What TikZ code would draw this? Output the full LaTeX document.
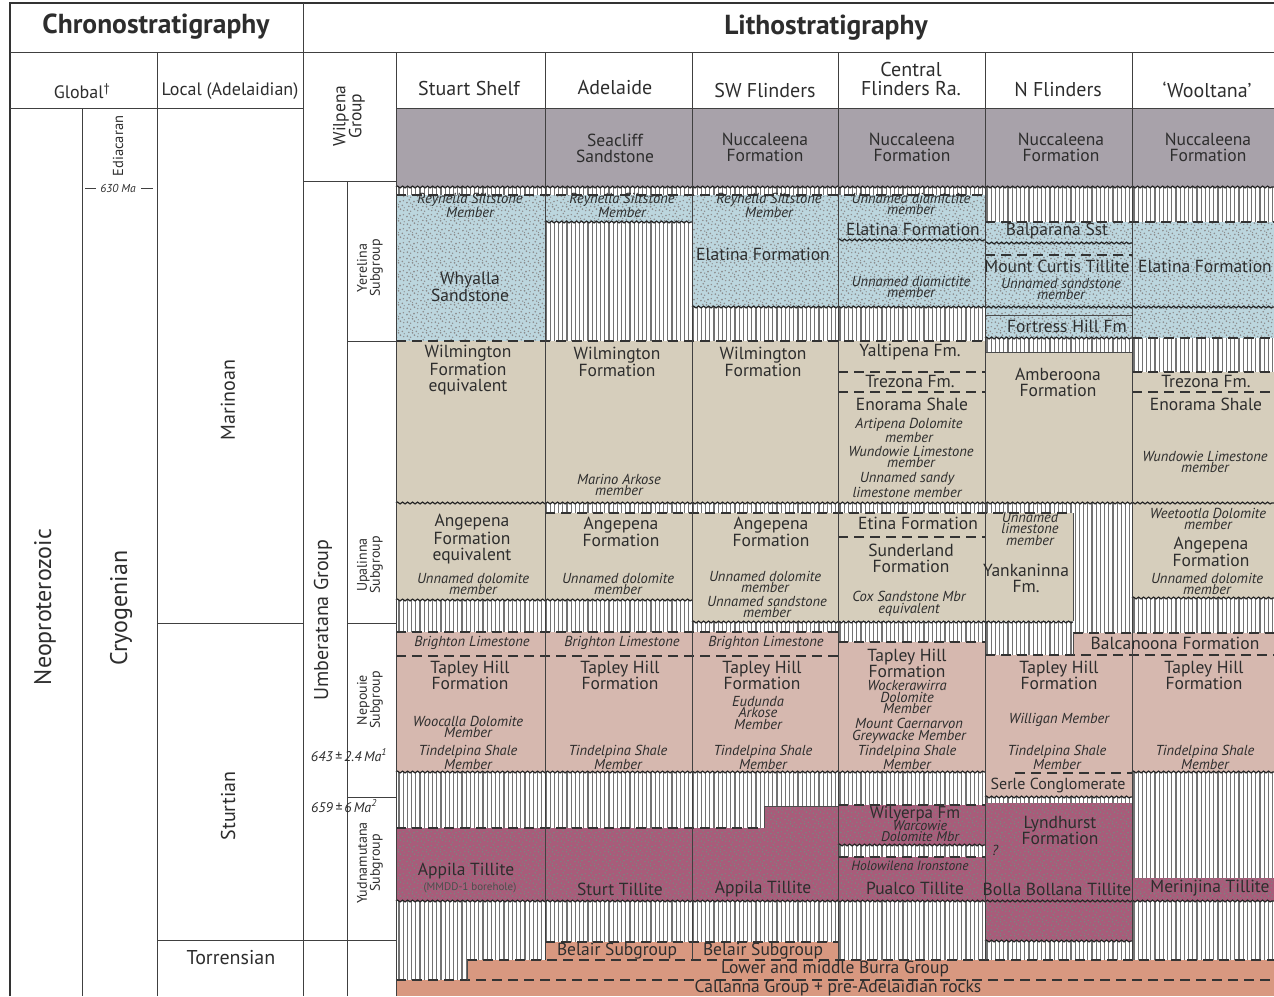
\documentclass[tikz,border=0pt]{standalone}
\usepackage{fontspec}
\setmainfont{PT Sans}
\usetikzlibrary{patterns,patterns.meta,decorations.pathmorphing}

\definecolor{ink}{RGB}{45,45,45}
\definecolor{greyfill}{RGB}{168,162,170}
\definecolor{bluefill}{RGB}{188,214,222}
\definecolor{tanfill}{RGB}{214,206,188}
\definecolor{pinkfill}{RGB}{214,184,175}
\definecolor{magfill}{RGB}{168,92,122}
\definecolor{salmon}{RGB}{216,152,128}

\newcommand\headfont{\fontsize{27.5}{28}\selectfont\bfseries}
\newcommand\colfont{\fontsize{20}{19}\selectfont}
\newcommand\bigfont{\fontsize{24}{24}\selectfont}
\newcommand\midfont{\fontsize{20}{20}\selectfont}
\newcommand\fmfont{\fontsize{17.5}{16}\selectfont}
\newcommand\mbrfont{\fontsize{14.5}{11.5}\selectfont\itshape}
\newcommand\sgfont{\fontsize{14}{13}\selectfont}
\newcommand\agefont{\fontsize{14}{14}\selectfont\itshape}

% random-looking grain for tillites and sandstones
\pgfdeclarepatternformonly{stipple}{\pgfpointorigin}{\pgfpoint{14pt}{14pt}}{\pgfpoint{14pt}{14pt}}{%
  \pgfpathcircle{\pgfpoint{1.5pt}{2pt}}{1.0pt}
  \pgfpathcircle{\pgfpoint{5pt}{0.8pt}}{0.8pt}
  \pgfpathcircle{\pgfpoint{9pt}{3pt}}{1.0pt}
  \pgfpathcircle{\pgfpoint{12.5pt}{1.5pt}}{0.8pt}
  \pgfpathcircle{\pgfpoint{3pt}{6pt}}{0.9pt}
  \pgfpathcircle{\pgfpoint{7pt}{5.5pt}}{1.0pt}
  \pgfpathcircle{\pgfpoint{11pt}{7pt}}{0.9pt}
  \pgfpathcircle{\pgfpoint{13pt}{4.5pt}}{0.7pt}
  \pgfpathcircle{\pgfpoint{1pt}{10pt}}{1.0pt}
  \pgfpathcircle{\pgfpoint{5pt}{9.5pt}}{0.8pt}
  \pgfpathcircle{\pgfpoint{8.5pt}{11pt}}{1.0pt}
  \pgfpathcircle{\pgfpoint{12pt}{12pt}}{0.8pt}
  \pgfpathcircle{\pgfpoint{3.5pt}{13pt}}{0.9pt}
  \pgfpathcircle{\pgfpoint{7pt}{8pt}}{0.7pt}
  \pgfusepath{fill}}

\tikzset{
  grid/.style={draw=black!75, line width=0.8pt},
  frame/.style={draw=black!80, line width=1.8pt},
  hatch/.style={pattern={Lines[angle=90,distance=4.2pt,line width=1.2pt]}, pattern color=black!55},
  blueunit/.style={fill=bluefill, postaction={pattern=stipple, pattern color=black!45}},
  magunit/.style={fill=magfill, postaction={pattern=stipple, pattern color=black!50}},
  wavy/.style={draw=black!85, line width=1.2pt, decorate,
    decoration={snake, amplitude=0.9pt, segment length=5pt}},
  brk/.style={draw=black!80, line width=1.2pt, dash pattern=on 10pt off 6pt},
  edge/.style={draw=black!70, line width=0.7pt},
  head/.style={font=\headfont, text=ink, inner sep=0pt},
  colhd/.style={font=\colfont, text=ink, align=center, inner sep=0pt},
  fm/.style={font=\fmfont, text=ink, align=center, inner sep=0pt},
  mbr/.style={font=\mbrfont, text=ink, align=center, inner sep=0pt},
  sg/.style={font=\sgfont, text=ink, align=center, inner sep=0pt, rotate=90},
  age/.style={font=\agefont, text=ink, inner sep=0pt}
}

\begin{document}
\begin{tikzpicture}[x=1pt, y=-1pt]
\useasboundingbox (0,0) rectangle (1274,996);

% background of hiatus hatching
\fill[white] (396,187) rectangle (1274,980);
\fill[hatch] (396,187) rectangle (1274,980);

% Wilpena Group
\fill[greyfill] (396,108) rectangle (1274,187);

% Yerelina sandstones / tillites
\foreach \a/\b/\c/\d in {396/195/545/341, 545/195/692/222, 692/195/838/307,
    838/195/985/307, 985/222/1132/338, 1132/222/1274/338}
  \path[blueunit] (\a,\b) rectangle (\c,\d);

% Upalinna
\foreach \a/\b/\c/\d in {396/341/545/503, 396/503/545/600, 545/341/692/503,
    545/513/692/600, 692/341/838/503, 692/513/838/622, 838/341/985/503,
    838/513/985/621, 985/352/1132/503, 985/513/1073/621, 1132/372/1274/503,
    1132/503/1274/598}
  \fill[tanfill] (\a,\b) rectangle (\c,\d);

% Nepouie
\foreach \a/\b/\c/\d in {396/632/838/772, 838/642/985/772, 985/655/1132/797,
    1073/633/1274/655, 1132/655/1274/772}
  \fill[pinkfill] (\a,\b) rectangle (\c,\d);

% Yudnamutana
\foreach \a/\b/\c/\d in {396/828/764/901, 764/806/838/901, 838/805/985/845,
    838/857/985/901, 985/803/1132/941, 1132/878/1274/901}
  \path[magunit] (\a,\b) rectangle (\c,\d);

% Burra, Belair, Callanna
\foreach \a/\b/\c/\d in {545/942/838/960, 467/960/1274/980, 396/980/1274/996}
  \fill[salmon] (\a,\b) rectangle (\c,\d);

% unconformities
\foreach \y/\a/\b in {187/396/1274, 222/545/692, 240/838/985, 243/985/1132,
    307/692/1274, 338/985/1132, 503/396/1274, 600/396/692, 622/692/1073,
    598/1132/1274, 772/396/985, 772/1132/1274, 797/985/1132, 845/838/985,
    901/396/1274, 941/985/1132}
  \draw[wavy] (\a,\y) -- (\b,\y);

% gradational / uncertain contacts
\foreach \y/\a/\b in {195/396/985, 341/396/985, 222/985/1274, 255/985/1132,
    338/1132/1274, 372/838/985, 392/838/985, 372/1132/1274, 392/1132/1274,
    513/545/1073, 537/838/985, 632/396/838, 656/396/838, 642/838/985,
    633/1073/1274, 655/985/1274, 773/1015/1132, 828/396/764, 805/838/985,
    857/838/985, 942/545/838, 960/467/1274, 980/396/1274}
  \draw[brk] (\a,\y) -- (\b,\y);

% sharp contacts
\draw[edge] (985,315) -- (1132,315);
\draw[edge] (985,352) -- (1132,352);
\draw[edge] (1073,513) -- (1073,621);
\draw[edge] (1073,633) -- (1073,655);
\draw[edge] (467,960) -- (467,980);
\draw[edge] (764,828) -- (764,806) -- (838,806);

% table frame
\draw[frame] (10,996) -- (10,3) -- (1274,3);
\draw[grid] (10,52) -- (1274,52);
\draw[grid] (303,3) -- (303,996);
\draw[grid] (10,108) -- (303,108);
\draw[grid] (396,108) -- (1274,108);
\draw[grid] (157,52) -- (157,996);
\draw[grid] (82,108) -- (82,996);
\draw[grid] (157,623) -- (303,623);
\draw[grid] (157,940) -- (396,940);
\draw[grid] (396,52) -- (396,996);
\draw[grid] (303,181) -- (396,181);
\draw[grid] (347,181) -- (347,996);
\foreach \y in {341,623,797}
  \draw[grid] (347,\y) -- (396,\y);
\foreach \x in {545,692,838,985,1132}
  \draw[grid] (\x,52) -- (\x,960);
\draw[grid] (85,188) -- (96,188);
\draw[grid] (141,188) -- (153,188);

% headings
\node[head] (chrono) at (156,27) {Chronostratigraphy};
\node[head] (litho) at (826,28) {Lithostratigraphy};
\node[colhd, font=\fontsize{18}{18}\selectfont] (glob) at (82,91) {Global\textsuperscript{\dag}};
\node[colhd, font=\fontsize{18}{18}\selectfont] (local) at (230,91) {Local (Adelaidian)};
\node[colhd, rotate=90, font=\fmfont] (wilp) at (349,116) {Wilpena\\Group};
\node[colhd] (hss) at (469,88) {Stuart Shelf};
\node[colhd] (had) at (615,88) {Adelaide};
\node[colhd] (hsw) at (765,90) {SW Flinders};
\node[colhd] (hcf) at (911,79) {Central\\Flinders Ra.};
\node[colhd] (hnf) at (1058,90) {N Flinders};
\node[colhd] (hwo) at (1207,90) {‘Wooltana’};

% time scale
\node[font=\bigfont, text=ink, rotate=90] (neo) at (45,607) {Neoproterozoic};
\node[sg, font=\fontsize{14.5}{14}\selectfont] (edi) at (118,146) {Ediacaran};
\node[age, font=\fontsize{11.5}{11}\selectfont\itshape] (a630) at (118,188) {630 Ma};
\node[font=\bigfont, text=ink, rotate=90] (cryo) at (121,608) {Cryogenian};
\node[font=\midfont, text=ink, rotate=90] (mar) at (228,400) {Marinoan};
\node[font=\midfont, text=ink, rotate=90] (stu) at (228,806) {Sturtian};
\node[font=\midfont, text=ink] (tor) at (231,958) {Torrensian};

% groups and subgroups
\node[font=\midfont, text=ink, rotate=90] (umb) at (323,620) {Umberatana Group};
\node[sg] (yer) at (370,268) {Yerelina\\Subgroup};
\node[sg] (upa) at (370,565) {Upalinna\\Subgroup};
\node[sg] (nep) at (370,700) {Nepouie\\Subgroup};
\node[sg] (yud) at (370,863) {Yudnamutana\\Subgroup};
\node[age] (a643) at (349,755) {643\,±\,2.4\,Ma\textsuperscript{1}};
\node[age] (a659) at (344,806) {659\,±\,6\,Ma\textsuperscript{2}};

% Stuart Shelf
\node[mbr] (ss1) at (470,205) {Reynella Siltstone\\Member};
\node[fm] (ss2) at (470,287) {Whyalla\\Sandstone};
\node[fm] (ss3) at (468,370) {Wilmington\\Formation\\equivalent};
\node[fm] (ss4) at (472,539) {Angepena\\Formation\\equivalent};
\node[mbr] (ss5) at (473,584) {Unnamed dolomite\\member};
\node[mbr] (ss6) at (472,643) {Brighton Limestone};
\node[fm] (ss7) at (470,675) {Tapley Hill\\Formation};
\node[mbr] (ss8) at (468,727) {Woocalla Dolomite\\Member};
\node[mbr] (ss9) at (468,757) {Tindelpina Shale\\Member};
\node[fm] (ss10) at (466,871) {Appila Tillite};
\node[font=\fontsize{11}{11}\selectfont, text=black!70, inner sep=0pt] (ss11) at (470,888) {(MMDD-1 borehole)};

% Adelaide
\node[fm] (ad1) at (615,148) {Seacliff\\Sandstone};
\node[mbr] (ad2) at (622,205) {Reynella Siltstone\\Member};
\node[fm] (ad3) at (617,362) {Wilmington\\Formation};
\node[mbr] (ad4) at (619,485) {Marino Arkose\\member};
\node[fm] (ad5) at (621,532) {Angepena\\Formation};
\node[mbr] (ad6) at (618,584) {Unnamed dolomite\\member};
\node[mbr] (ad7) at (622,643) {Brighton Limestone};
\node[fm] (ad8) at (620,675) {Tapley Hill\\Formation};
\node[mbr] (ad9) at (618,757) {Tindelpina Shale\\Member};
\node[fm] (ad10) at (620,889) {Sturt Tillite};
\node[fm] (ad11) at (617,951) {Belair Subgroup};

% SW Flinders
\node[fm] (sw1) at (765,147) {Nuccaleena\\Formation};
\node[mbr] (sw2) at (769,205) {Reynella Siltstone\\Member};
\node[fm] (sw3) at (763,254) {Elatina Formation};
\node[fm] (sw4) at (763,362) {Wilmington\\Formation};
\node[fm] (sw5) at (771,532) {Angepena\\Formation};
\node[mbr] (sw6) at (765,582) {Unnamed dolomite\\member};
\node[mbr] (sw7) at (767,607) {Unnamed sandstone\\member};
\node[mbr] (sw8) at (766,643) {Brighton Limestone};
\node[fm] (sw9) at (762,675) {Tapley Hill\\Formation};
\node[mbr] (sw10) at (758,713) {Eudunda\\Arkose\\Member};
\node[mbr] (sw11) at (763,757) {Tindelpina Shale\\Member};
\node[fm] (sw12) at (763,889) {Appila Tillite};
\node[fm] (sw13) at (763,951) {Belair Subgroup};

% Central Flinders Ranges
\node[fm] (cf1) at (912,147) {Nuccaleena\\Formation};
\node[mbr] (cf2) at (911,204) {Unnamed diamictite\\member};
\node[fm] (cf3) at (913,229) {Elatina Formation};
\node[mbr] (cf4) at (911,287) {Unnamed diamictite\\member};
\node[fm] (cf5) at (910,352) {Yaltipena Fm.};
\node[fm] (cf6) at (910,381) {Trezona Fm.};
\node[fm] (cf7) at (912,404) {Enorama Shale};
\node[mbr] (cf8) at (909,430) {Artipena Dolomite\\member};
\node[mbr] (cf9) at (911,457) {Wundowie Limestone\\member};
\node[mbr] (cf10) at (907,485) {Unnamed sandy\\limestone member};
\node[fm] (cf11) at (918,523) {Etina Formation};
\node[fm] (cf12) at (911,558) {Sunderland\\Formation};
\node[mbr] (cf13) at (909,604) {Cox Sandstone Mbr\\equivalent};
\node[fm] (cf14) at (907,663) {Tapley Hill\\Formation};
\node[mbr] (cf15) at (907,697) {Wockerawirra\\Dolomite\\Member};
\node[mbr] (cf16) at (909,731) {Mount Caernarvon\\Greywacke Member};
\node[mbr] (cf17) at (907,757) {Tindelpina Shale\\Member};
\node[fm, font=\fontsize{17}{15}\selectfont] (cf18) at (915,814) {Wilyerpa Fm};
\node[mbr, font=\fontsize{14}{10}\selectfont\itshape] (cf19) at (920,831) {Warcowie\\Dolomite Mbr};
\node[mbr, font=\fontsize{13.5}{10}\selectfont\itshape] (cf20) at (910,866) {Holowilena Ironstone};
\node[fm] (cf21) at (915,888) {Pualco Tillite};

% N Flinders
\node[fm] (nf1) at (1061,147) {Nuccaleena\\Formation};
\node[fm] (nf2) at (1057,231) {Balparana Sst};
\node[fm] (nf3) at (1057,266) {Mount Curtis Tillite};
\node[mbr] (nf4) at (1061,289) {Unnamed sandstone\\member};
\node[fm] (nf5) at (1067,326) {Fortress Hill Fm};
\node[fm] (nf6) at (1058,382) {Amberoona\\Formation};
\node[mbr] (nf7) at (1030,529) {Unnamed\\limestone\\member};
\node[fm] (nf8) at (1026,578) {Yankaninna\\Fm.};
\node[fm] (nf9) at (1175,643) {Balcanoona Formation};
\node[fm] (nf10) at (1059,675) {Tapley Hill\\Formation};
\node[mbr] (nf11) at (1059,720) {Willigan Member};
\node[mbr] (nf12) at (1057,757) {Tindelpina Shale\\Member};
\node[fm, font=\fontsize{16}{15}\selectfont] (nf13) at (1058,785) {Serle Conglomerate};
\node[fm] (nf14) at (1060,830) {Lyndhurst\\Formation};
\node[mbr] (nf15) at (995,850) {?};
\node[fm] (nf16) at (1057,889) {Bolla Bollana Tillite};

% Wooltana
\node[fm] (wo1) at (1208,147) {Nuccaleena\\Formation};
\node[fm] (wo2) at (1205,266) {Elatina Formation};
\node[fm] (wo3) at (1206,381) {Trezona Fm.};
\node[fm] (wo4) at (1206,404) {Enorama Shale};
\node[mbr] (wo5) at (1205,462) {Wundowie Limestone\\member};
\node[mbr] (wo6) at (1208,519) {Weetootla Dolomite\\member};
\node[fm] (wo7) at (1211,552) {Angepena\\Formation};
\node[mbr] (wo8) at (1207,584) {Unnamed dolomite\\member};
\node[fm] (wo9) at (1204,675) {Tapley Hill\\Formation};
\node[mbr] (wo10) at (1205,757) {Tindelpina Shale\\Member};
\node[fm] (wo11) at (1210,888) {Merinjina Tillite};

% basement
\node[fm] (bur) at (835,969) {Lower and middle Burra Group};
\node[fm] (cal) at (838,988) {Callanna Group + pre-Adelaidian rocks};
\end{tikzpicture}
\end{document}
